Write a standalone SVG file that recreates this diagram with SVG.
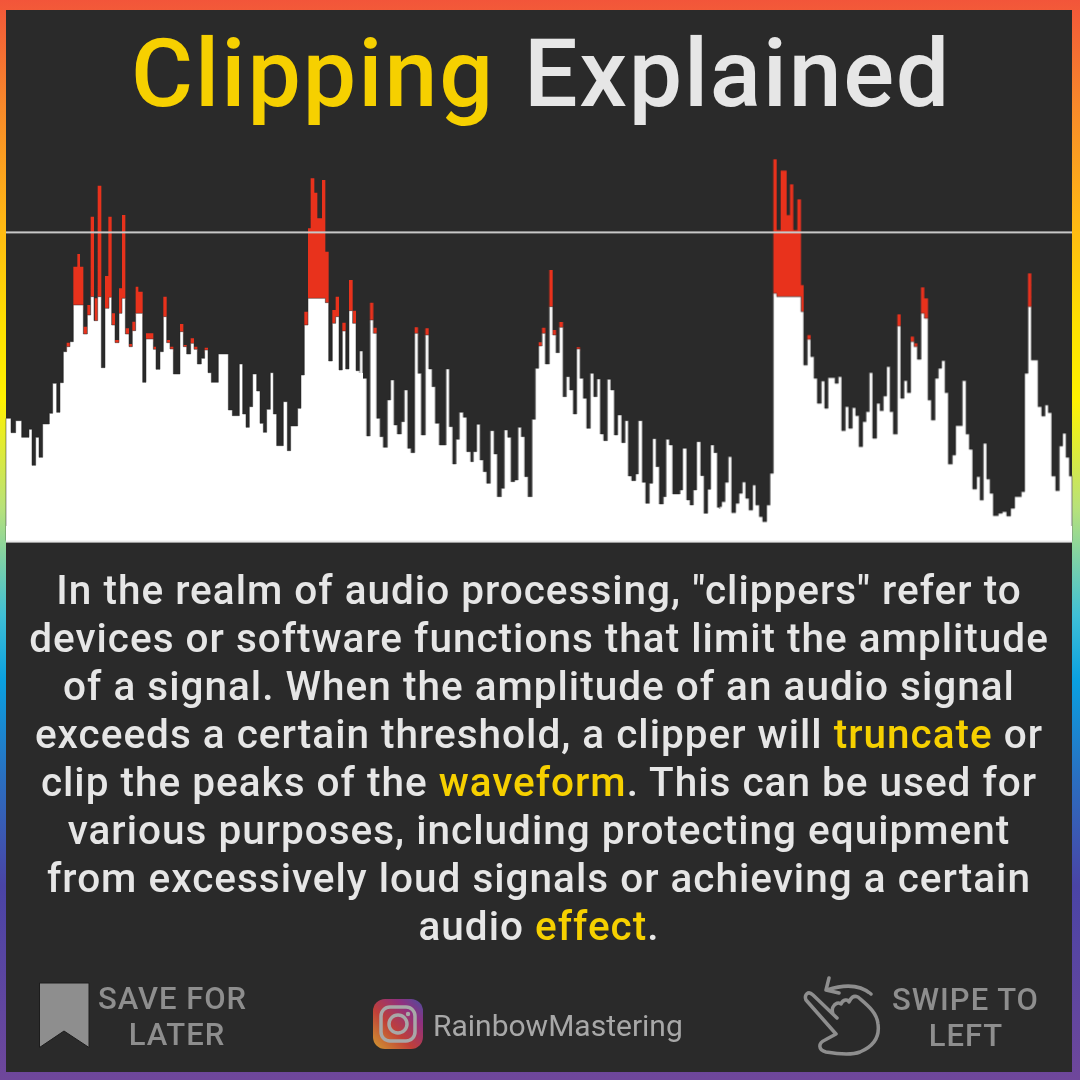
<svg xmlns="http://www.w3.org/2000/svg" width="1080" height="1080" viewBox="0 0 1080 1080">
<defs>
<linearGradient id="rb" x1="0" y1="0" x2="0" y2="1">
<stop offset="0" stop-color="#f2553a"/><stop offset=".1" stop-color="#f88a2a"/><stop offset=".2" stop-color="#ffb515"/><stop offset=".3" stop-color="#ffe000"/><stop offset=".37" stop-color="#fff200"/><stop offset=".47" stop-color="#b8e27a"/><stop offset=".57" stop-color="#3fbfd6"/><stop offset=".63" stop-color="#0aa0e0"/><stop offset=".72" stop-color="#2a6fc0"/><stop offset=".82" stop-color="#4a44a6"/><stop offset="1" stop-color="#6f479b"/>
</linearGradient>
<linearGradient id="ig" x1="0" y1="1" x2="1" y2="0">
<stop offset="0" stop-color="#d09a30"/><stop offset=".4" stop-color="#c04038"/><stop offset=".75" stop-color="#8f3080"/><stop offset="1" stop-color="#4a50a0"/>
</linearGradient>
<filter id="soft" filterUnits="userSpaceOnUse" x="0" y="140" width="1080" height="410"><feGaussianBlur stdDeviation="0.6"/></filter>
<style>
.t{font-family:Roboto,"Liberation Sans",sans-serif;font-weight:500}
.b{font-size:40.5px;fill:#e6e6e6;text-anchor:middle;letter-spacing:1px}
.y{fill:#f6d000}
.g{font-size:31px;fill:#8e8e8e;text-anchor:middle;letter-spacing:1px}
.w{fill:#fff;stroke:#2a2a2a;stroke-width:1.5px}
.f{fill:#fff}
.r{fill:#e8321f}
</style>
</defs>
<rect width="1080" height="1080" fill="url(#rb)"/>
<rect x="6" y="10" width="1066" height="1062" fill="#2a2a2a"/>
<g id="title" class="t" style="font-size:95px"><text x="131" y="105.500" class="y" letter-spacing="2">Clipping</text><text x="524" y="105.500" fill="#e6e6e6" letter-spacing="1.700">Explained</text></g>
<g id="waveform">
<g filter="url(#soft)">
<g transform="translate(0,150) scale(.33333)">
<path class="r" d="M200 578h20v30h-20zM220 350h30v130h-30zM232 312h8v50h-8zM250 530h12v30h-12zM262 465h10v40h-10zM272 200h10v250h-10zM284 445h10v75h-10zM293 107h11v343h-11zM315 378h12v105h-12zM325 200h10v250h-10zM335 490h10v40h-10zM345 570h12v16h-12zM357 415h9v80h-9zM366 195h10v255h-10zM376 535h11v25h-11zM387 582h10v15h-10zM397 515h10v35h-10zM407 410h8v90h-8zM415 425h13v75h-13zM438 550h22v25h-22zM460 590h8v15h-8zM490 440h10v70h-10zM500 570h10v15h-10zM510 590h10v15h-10zM540 522h10v30h-10zM550 585h10v12h-10zM572 565h10v22h-10zM582 590h10v15h-10zM614 593h10v15h-10zM913 485h11v45h-11zM924 235h52v220h-52zM932 85h11v160h-11zM943 128h9v110h-9zM952 205h14v40h-14zM966 90h10v150h-10zM976 305h10v160h-10zM997 480h10v45h-10zM1007 440h10v65h-10zM1027 518h10v30h-10zM1047 390h11v100h-11zM1058 482h10v45h-10z"/>
<path class="w" d="M18 1172V805H33V848H47V812H65V862H87V838H96V946H107V862H117V922H128V822H148V790H158V700H170V787H180V698H190V605H200V590H210V575H220V465H250V552H262V495H272V440H282V512H293V440H304V653H315V475H327V442H335V525H345V578H357V490H366V445H376V552H387V590H397V542H407V490H428V697H438V567H460V598H468V658H480V605H490V500H500V578H510V597H520V672H540V545H550V590H560V612H572V580H582V598H592V642H604V625H614V600H624V668H634V697H655V612H685V780H697V797H718V642H728V792H738V832H748V770H758V672H770V723H780V820H790V847H800V778H811V668H820V792H830V887H850V755H862V902H872V828H893V775H903V675H913V525H924V445H976V458H986V633H997V520H1007V500H1017V660H1027V543H1037V657H1047V482H1058V520H1068V662H1081V1172Z"/>
</g>
<g transform="translate(360,150) scale(.33333)">
<path class="r" d="M30 458h10v60h-10zM40 533h10v25h-10zM164 532h10v25h-10zM196 535h10v27h-10zM536 577h10v18h-10zM546 533h10v24h-10zM568 360h10v115h-10zM578 540h10v22h-10zM598 516h11v23h-11zM650 592h10v12h-10z"/>
<path class="w" d="M-1 1172V603H8V685H20V858H30V510H40V550H50V805H60V860H70V892H82V750H92V690H102V825H112V852H124V815H133V720H143V895H153V908H164V550H174V670H184V855H196V555H206V657H216V710H226V820H238V885H258V657H268V830H278V942H288V868H298V787H310V802H320V905H332V935H340V905H350V823H360V930H370V965H380V1000H391V842H402V912H412V1040H424V1015H433V840H443V862H453V995H464V990H474V832H484V860H494V980H504V1040H516V808H526V655H536V588H546V550H556V642H568V470H578V555H588V608H598V532H609V740H619V680H629V720H640V792H650V597H660V685H670V745H680V835H691V670H701V740H711V687H721V852H731V872H742V688H752V720H763V855H773V795H785V878H795V812H805V978H815V992H827V972H835V812H847V997H857V1060H868V1000H878V866H888V950H898V1062H910V1040H918V868H928V885H938V1032H960V1020H968V895H980V1050H990V1065H1000V1020H1010V875H1022V977H1032V1090H1043V1018H1052V885H1062V908H1072V1072H1081V1172Z"/>
</g>
<g transform="translate(720,150) scale(.33333)">
<path class="r" d="M160 28h10v412h-10zM170 240h73v200h-73zM182 62h18v180h-18zM200 195h10v50h-10zM210 103h10v140h-10zM232 148h11v95h-11zM243 405h8v85h-8zM262 555h10v18h-10zM532 493h10v40h-10zM572 560h10v20h-10zM582 580h10v15h-10zM603 412h10v85h-10zM613 445h11v65h-11zM924 370h10v105h-10z"/>
<path class="w" d="M-1 1172V1070H5V1055H15V997H25V920H35V1088H47V1060H57V1030H67V996H77V1045H87V1080H98V1005H107V1065H118V1100H128V1115H140V1065H150V970H160V430H170V440H243V485H251V645H262V568H272V620H282V685H292V760H304V693H314V775H324V683H345V700H355V680H365V842H376V770H386V835H397V773H407V797H417V890H428V815H438V785H448V668H458V865H470V760H480V782H490V738H500V650H510V785H520V852H532V528H542V745H552V692H562V728H572V575H582V590H592V628H603V490H613V505H624V750H634V810H645V685H655V655H665V632H675V728H685V942H697V915H707V827H727V692H738V852H748V898H758V1017H770V980H780V1050H790V880H800V987H810V1030H820V1097H835V1090H847V1085H860V1098H872V1075H884V1040H904V1025H914V670H924V470H934V630H954V770H965V798H975V765H985V788H995V978H1007V1022H1018V888H1028V850H1038V922H1048V978H1056V1172Z"/>
</g>
<rect x="6" y="526" width="1066" height="15" class="f"/>
<rect x="357" y="373" width="6" height="168" class="f"/>
<rect x="717" y="509" width="6" height="32" class="f"/>
</g>
<rect x="6" y="231.400" width="1066" height="2" fill="#c8c8c8"/>
<rect x="6" y="540.600" width="1066" height="2" fill="#e8e8e8"/>
</g>
<g id="body" class="t b">
<text x="539" y="604">In the realm of audio processing, "clippers" refer to</text>
<text x="539" y="652">devices or software functions that limit the amplitude</text>
<text x="539" y="700">of a signal. When the amplitude of an audio signal</text>
<text x="539" y="748">exceeds a certain threshold, a clipper will <tspan class="y">truncate</tspan> or</text>
<text x="539" y="796">clip the peaks of the <tspan class="y">waveform</tspan>. This can be used for</text>
<text x="539" y="844">various purposes, including protecting equipment</text>
<text x="539" y="892">from excessively loud signals or achieving a certain</text>
<text x="539" y="940">audio <tspan class="y">effect</tspan>.</text>
</g>
<g id="save">
<path d="M39.500 983H89V1047.500L64 1031L39.500 1047.500Z" fill="#8e8e8e" stroke="#1c1c1c" stroke-width="1"/>
<g class="t g"><text x="172.500" y="1009">SAVE FOR</text><text x="177" y="1045">LATER</text></g>
</g>
<g id="instagram">
<rect x="373" y="999" width="50" height="50" rx="12" fill="url(#ig)"/>
<rect x="381" y="1007" width="34" height="34" rx="9" fill="none" stroke="#a8a8a8" stroke-width="3.500"/>
<circle cx="398" cy="1024" r="9" fill="none" stroke="#a8a8a8" stroke-width="3.500"/>
<circle cx="408" cy="1014" r="2.200" fill="#a8a8a8"/>
<text class="t" x="433" y="1036" style="font-size:30px;font-weight:400;fill:#a8a8a8;letter-spacing:0">RainbowMastering</text>
</g>
<g id="swipe">
<g fill="none" stroke="#8e8e8e" stroke-width="3.500" stroke-linecap="round" stroke-linejoin="round">
<path d="M871 994C858 983 842 985 827 990M829 978L826 990L839 993"/>
<path d="M837 1018L813 995C808 990 804 995 806 1000L836 1034L825 1040C818 1043 818 1050 826 1052C838 1054 852 1055 860 1052C872 1047 880 1038 878 1024C877 1012 866 1004 858 997C853 995 851 998 849 1002C848 999 843 999 841 1004C839 1002 835 1003 833 1007C832 1009 832 1011 833 1014"/>
</g>
<g class="t g"><text x="965.500" y="1010">SWIPE TO</text><text x="966" y="1046">LEFT</text></g>
</g>
</svg>
